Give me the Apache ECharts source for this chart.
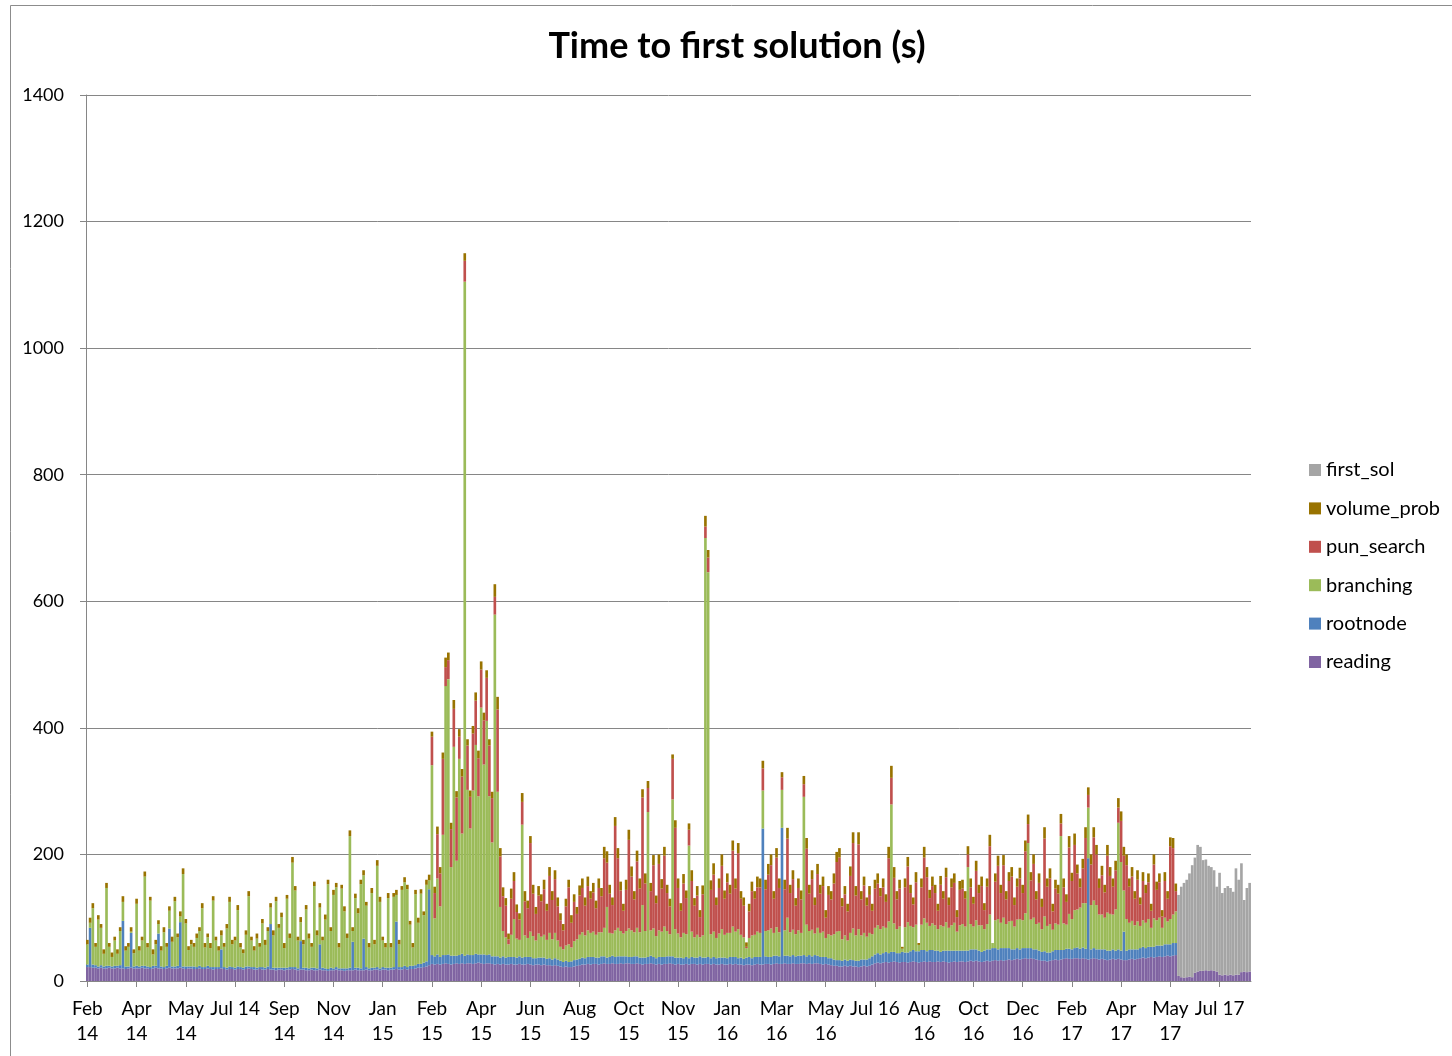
<!DOCTYPE html>
<html><head><meta charset="utf-8">
<script src="https://cdn.jsdelivr.net/npm/echarts@6/dist/echarts.min.js"></script>
<style>html,body{margin:0;padding:0;background:#fff}#c{width:1452px;height:1056px}</style>
</head><body><div id="c"></div>
<script>
const tickLabels = ['Feb\n14','Apr\n14','May\n14','Jul 14','Sep\n14','Nov\n14','Jan\n15','Feb\n15','Apr\n15','Jun\n15','Aug\n15','Oct\n15','Nov\n15','Jan\n16','Mar\n16','May\n16','Jul 16','Aug\n16','Oct\n16','Dec\n16','Feb\n17','Apr\n17','May\n17','Jul 17'];
const tickEvery = 18;
const yTicks = [0,200,400,600,800,1000,1200,1400];

const reading = [
22,22,21,21,20,21,20,20,21,20,20,21,20,20,19,20,21,20,20,20,
21,20,20,19,20,21,20,20,19,20,21,20,20,20,21,20,19,20,20,19,
19,20,19,19,20,19,18,19,19,20,19,18,19,19,18,19,19,18,19,20,
19,18,18,19,18,18,19,18,18,17,18,18,17,18,18,19,18,17,18,18,
17,17,18,17,17,18,17,17,16,17,17,18,17,17,16,17,17,17,18,17,
17,17,18,17,17,18,18,17,18,18,17,18,18,19,18,18,19,18,19,19,
20,21,21,22,23,25,27,26,27,26,27,28,27,26,27,28,27,28,27,28,
28,27,28,29,28,27,28,28,27,26,27,26,27,26,26,27,26,26,27,26,
26,27,26,25,26,26,25,26,25,25,24,25,24,23,22,23,22,22,23,24,
25,26,26,27,26,27,27,26,27,28,27,27,28,27,27,28,27,28,28,27,
27,28,27,26,27,27,28,27,26,27,26,27,27,28,27,26,27,26,26,27,
26,27,27,26,27,26,27,27,26,27,26,26,27,26,26,27,26,27,26,26,
25,26,26,25,26,27,26,26,27,27,26,27,28,27,27,28,27,27,28,27,
27,28,28,27,28,27,28,28,27,26,27,26,25,24,24,23,23,24,23,24,
23,23,22,23,24,23,24,26,28,29,28,29,30,29,30,31,30,29,30,30,
29,30,31,30,29,30,31,30,31,30,30,31,30,31,30,29,30,31,30,31,
31,30,31,32,31,32,31,30,31,32,31,32,33,32,33,32,33,34,33,34,
35,34,35,36,35,36,35,34,33,32,32,31,32,33,34,33,34,35,36,35,
35,36,36,35,36,35,34,35,36,35,34,35,34,33,34,35,34,35,34,33,
33,34,35,34,35,36,37,36,37,38,37,38,39,38,39,40,39,40,41,8,
6,5,6,7,6,13,15,16,16,17,16,17,16,15,10,9,10,9,10,9,
10,10,14,15,14,15];

const rootnode = [
4,62,5,4,3,4,3,4,3,3,4,3,5,75,4,3,55,3,4,3,
3,4,3,3,4,3,55,3,3,4,62,3,3,4,72,3,4,3,3,4,
3,4,3,3,4,3,4,3,3,30,3,3,4,3,3,4,3,3,4,3,
3,4,3,3,4,3,4,72,3,4,3,3,4,3,4,3,4,3,45,3,
4,3,3,4,3,40,4,3,3,4,3,4,3,3,4,3,4,45,3,4,
3,50,4,3,4,3,4,3,4,3,4,3,4,75,4,4,5,4,5,5,
5,6,6,7,8,120,14,13,15,12,14,13,15,14,13,12,14,15,13,14,
13,14,15,13,14,15,13,14,12,13,12,11,12,11,12,11,12,11,12,11,
12,11,12,11,10,11,12,11,10,11,10,11,10,9,8,9,8,9,10,10,
10,11,10,11,12,11,10,11,12,11,10,11,12,11,12,11,12,11,10,11,
12,11,10,11,10,11,12,11,10,11,12,11,12,11,12,11,10,11,10,11,
10,11,10,11,12,11,10,11,10,11,10,11,10,11,10,11,12,11,10,11,
10,11,12,11,12,11,12,215,12,11,12,13,12,12,215,12,13,12,13,12,
13,12,13,12,13,12,13,12,11,12,11,10,11,10,9,10,9,10,9,10,
10,9,10,11,10,11,12,13,14,15,14,15,16,15,16,15,14,15,16,15,
16,17,18,17,18,19,18,17,18,19,18,17,16,17,18,19,18,17,18,17,
17,18,17,18,19,18,17,16,17,18,19,20,19,18,19,20,19,18,17,16,
17,16,17,16,17,16,15,16,15,14,15,14,13,14,15,16,15,14,15,16,
15,16,17,16,17,16,160,15,16,15,16,15,16,15,14,15,14,15,14,45,
15,16,15,16,15,16,17,16,17,16,17,18,17,18,19,18,19,20,19,0,
0,0,0,0,0,0,0,0,0,0,0,0,0,0,0,0,0,0,0,0,
0,0,0,0,0,0];

const branching = [
32,8,89,29,74,59,20,123,30,15,40,19,54,30,25,31,2,21,98,25,
40,141,30,105,18,34,15,25,55,30,28,39,103,45,9,146,68,26,35,31,
46,55,93,31,45,30,105,42,26,22,32,62,102,36,43,89,31,23,50,111,
42,26,46,32,69,36,56,26,51,105,63,80,31,109,46,165,121,44,30,37,
92,47,33,129,52,58,43,77,134,58,116,126,33,126,90,48,208,17,110,86,
133,100,97,33,118,37,160,105,42,32,110,32,111,42,36,122,132,123,65,29,
112,65,111,75,121,14,300,60,120,80,190,425,435,140,330,150,310,190,1065,260,
200,260,330,250,390,300,370,250,180,540,260,80,40,32,20,35,60,30,26,210,
34,30,40,35,28,38,33,36,30,40,32,40,30,22,20,24,28,22,30,32,
38,40,36,42,38,40,36,40,38,45,80,38,35,42,45,40,36,40,45,42,
38,45,40,83,42,229,40,45,35,42,40,48,40,35,248,45,38,32,40,36,
178,40,32,36,30,35,663,608,38,40,32,38,45,36,40,38,48,40,46,36,
34,15,30,36,35,40,38,60,40,42,45,36,45,38,60,40,60,38,40,35,
40,36,250,50,38,42,34,44,38,40,30,38,36,40,45,46,34,38,32,42,
50,40,50,38,42,36,40,35,42,44,40,42,38,50,233,45,38,42,5,40,
48,40,36,42,10,40,50,45,38,42,40,34,42,38,45,36,40,44,30,40,
42,38,132,40,36,46,40,42,34,40,55,8,44,48,40,48,38,42,45,36,
45,48,44,55,166,45,50,40,44,36,55,42,45,34,42,40,180,42,38,55,
48,60,60,65,70,72,80,70,75,70,55,55,50,60,58,55,65,200,140,65,
50,42,45,38,44,35,42,40,44,30,45,40,44,28,42,36,40,45,50,0,
0,0,0,0,0,0,0,0,0,0,0,0,0,0,0,0,0,0,0,0,
0,0,0,0,0,0];

const pun_search = [
0,0,0,0,0,0,0,0,0,0,0,0,0,0,0,0,0,0,0,0,
0,0,0,0,0,0,0,0,0,0,0,0,0,0,0,0,0,0,0,0,
0,0,0,0,0,0,0,0,0,0,0,0,0,0,0,0,0,0,0,0,
0,0,0,0,0,0,0,0,0,0,0,0,0,0,0,0,0,0,0,0,
0,0,0,0,0,0,0,0,0,0,0,0,0,0,0,0,0,0,0,0,
0,0,0,0,0,0,0,0,0,0,0,0,0,0,0,0,0,0,0,0,
0,0,0,0,0,0,45,40,70,52,120,30,30,60,60,100,35,90,33,70,
50,90,70,60,60,70,68,80,70,28,130,80,55,50,8,57,60,42,32,36,
54,47,140,67,42,60,56,72,46,90,62,85,54,42,30,62,90,39,62,40,
62,70,47,70,54,62,42,70,57,110,70,62,45,165,110,64,36,65,140,85,
52,105,69,170,75,38,62,100,52,105,68,112,60,44,64,160,72,42,78,57,
25,80,50,62,32,65,18,23,70,90,52,72,100,57,80,62,120,68,120,57,
50,2,42,70,57,70,72,35,66,88,100,54,110,70,20,65,125,62,80,45,
67,53,20,120,59,80,45,85,62,72,32,62,57,80,110,116,52,65,46,90,
135,63,134,57,75,49,60,37,62,66,52,62,41,100,42,72,47,60,0,63,
88,52,36,67,0,59,96,72,44,59,51,29,64,44,71,36,60,63,23,56,
56,44,20,58,36,78,51,62,30,59,108,0,61,84,47,83,39,64,70,34,
52,64,43,98,30,62,85,39,63,35,123,62,72,29,55,49,20,57,36,105,
60,103,57,32,55,103,20,64,100,80,42,62,40,90,60,44,62,24,65,55,
85,57,70,42,66,34,62,47,58,27,85,48,56,18,58,36,115,105,32,0,
0,0,0,0,0,0,0,0,0,0,0,0,0,0,0,0,0,0,0,0,
0,0,0,0,0,0];

const volume_prob = [
7,8,8,6,7,6,7,8,6,7,6,7,6,9,7,6,7,6,8,7,
6,8,7,6,8,7,6,7,8,6,7,8,7,6,8,9,7,6,7,6,
7,6,8,7,6,8,7,6,7,8,6,7,8,7,6,8,7,6,7,8,
6,7,8,6,7,8,6,7,8,7,6,7,8,6,7,9,7,6,8,7,
7,8,6,7,8,7,6,8,7,6,8,7,7,6,8,7,9,6,7,8,
7,8,6,7,8,7,9,8,6,7,8,7,6,8,7,6,8,7,6,7,
7,8,7,6,8,9,8,10,12,10,10,15,12,10,14,10,12,12,12,10,
10,12,13,12,13,12,12,10,10,20,20,13,14,12,9,16,14,12,10,14,
16,12,11,14,11,15,11,15,11,14,14,14,14,11,10,12,12,12,12,11,
16,15,13,15,12,15,12,15,13,18,18,14,12,14,16,14,11,16,16,16,
13,17,16,13,16,11,13,16,12,15,15,14,13,12,7,12,15,12,15,12,
10,17,12,15,11,14,17,12,15,18,12,15,18,13,14,14,16,16,16,12,
13,7,12,15,12,17,14,12,15,17,17,12,15,15,8,15,17,13,14,12,
15,14,13,17,14,14,12,16,14,15,12,14,13,16,16,15,13,13,12,15,
17,15,19,13,14,13,14,11,14,16,13,14,12,18,19,17,13,14,3,14,
15,13,11,16,3,14,17,16,13,15,13,11,14,12,15,12,14,15,11,14,
14,12,13,14,11,16,13,15,11,13,18,0,13,16,13,16,13,14,15,12,
13,17,13,17,15,13,15,13,15,13,18,13,16,12,14,14,15,14,12,18,
13,18,14,14,15,17,12,16,16,15,15,15,12,17,14,13,15,15,15,14,
17,13,15,12,15,11,14,13,14,11,16,13,14,10,14,12,14,16,12,0,
0,0,0,0,0,0,0,0,0,0,0,0,0,0,0,0,0,0,0,0,
0,0,0,0,0,0];

const first_sol = [
0,0,0,0,0,0,0,0,0,0,0,0,0,0,0,0,0,0,0,0,
0,0,0,0,0,0,0,0,0,0,0,0,0,0,0,0,0,0,0,0,
0,0,0,0,0,0,0,0,0,0,0,0,0,0,0,0,0,0,0,0,
0,0,0,0,0,0,0,0,0,0,0,0,0,0,0,0,0,0,0,0,
0,0,0,0,0,0,0,0,0,0,0,0,0,0,0,0,0,0,0,0,
0,0,0,0,0,0,0,0,0,0,0,0,0,0,0,0,0,0,0,0,
0,0,0,0,0,0,0,0,0,0,0,0,0,0,0,0,0,0,0,0,
0,0,0,0,0,0,0,0,0,0,0,0,0,0,0,0,0,0,0,0,
0,0,0,0,0,0,0,0,0,0,0,0,0,0,0,0,0,0,0,0,
0,0,0,0,0,0,0,0,0,0,0,0,0,0,0,0,0,0,0,0,
0,0,0,0,0,0,0,0,0,0,0,0,0,0,0,0,0,0,0,0,
0,0,0,0,0,0,0,0,0,0,0,0,0,0,0,0,0,0,0,0,
0,0,0,0,0,0,0,0,0,0,0,0,0,0,0,0,0,0,0,0,
0,0,0,0,0,0,0,0,0,0,0,0,0,0,0,0,0,0,0,0,
0,0,0,0,0,0,0,0,0,0,0,0,0,0,0,0,0,0,0,0,
0,0,0,0,0,0,0,0,0,0,0,0,0,0,0,0,0,0,0,0,
0,0,0,0,0,0,0,0,0,0,0,0,0,0,0,0,0,0,0,0,
0,0,0,0,0,0,0,0,0,0,0,0,0,0,0,0,0,0,0,0,
0,0,0,0,0,0,0,0,0,0,0,0,0,0,0,0,0,0,0,0,
0,0,0,0,0,0,0,0,0,0,0,0,0,0,0,0,0,0,0,128,
143,150,154,163,177,182,200,196,175,175,166,163,159,134,161,130,137,141,137,132,
168,150,172,113,133,140];

const categories = reading.map((_, i) => String(i));
const FONT = 'Lato, "Open Sans", sans-serif';
const seriesDefs = [
  ['reading', reading, '#8064A2'],
  ['rootnode', rootnode, '#4F81BD'],
  ['branching', branching, '#9BBB59'],
  ['pun_search', pun_search, '#C0504D'],
  ['volume_prob', volume_prob, '#997300'],
  ['first_sol', first_sol, '#A5A5A5']
];

const chart = echarts.init(document.getElementById('c'), null, {renderer: 'canvas'});
chart.setOption({
  animation: false,
  backgroundColor: '#fff',
  textStyle: {fontFamily: FONT},
  title: {
    text: 'Time to first solution (s)',
    left: 737, top: 28, textAlign: 'center', padding: 0,
    textStyle: {fontFamily: FONT, fontWeight: 'bold', fontSize: 36, color: '#000'}
  },
  graphic: [{
    type: 'rect', silent: true,
    shape: {x: 10.5, y: 5.5, width: 1500, height: 1100},
    style: {fill: 'none', stroke: '#8c8c8c', lineWidth: 1}
  }],
  legend: {
    orient: 'vertical', left: 1309, top: 460, padding: 0,
    itemWidth: 12, itemHeight: 12, itemGap: 18.4,
    icon: 'rect',
    textStyle: {fontFamily: FONT, fontSize: 20, color: '#000', padding: [0, 0, 0, 0]},
    data: ['first_sol','volume_prob','pun_search','branching','rootnode','reading']
  },
  grid: {left: 86, right: 201, top: 95, bottom: 75, containLabel: false},
  xAxis: {
    type: 'category', data: categories, boundaryGap: true,
    axisLine: {lineStyle: {color: '#868686', width: 1}},
    axisTick: {show: true, length: 6, alignWithLabel: true,
      interval: (i) => i % tickEvery === 0, lineStyle: {color: '#868686'}},
    axisLabel: {
      interval: (i) => i % tickEvery === 0,
      formatter: (v, i) => tickLabels[Math.round(i / tickEvery)] || '',
      fontFamily: FONT, fontSize: 19, color: '#000', margin: 15, lineHeight: 25
    },
    splitLine: {show: false}
  },
  yAxis: {
    type: 'value', min: yTicks[0], max: yTicks[yTicks.length - 1], interval: 200,
    axisLine: {show: true, lineStyle: {color: '#868686', width: 1}},
    axisTick: {show: true, length: 6, lineStyle: {color: '#868686'}},
    axisLabel: {fontFamily: FONT, fontSize: 18, color: '#000', margin: 22,
      formatter: (v) => String(v)},
    splitLine: {lineStyle: {color: '#868686', width: 1}}
  },
  series: seriesDefs.map(([name, data, color]) => ({
    name, type: 'bar', stack: 'total', data,
    barCategoryGap: '3%',
    itemStyle: {color},
    emphasis: {disabled: true}
  }))
});
</script></body></html>
